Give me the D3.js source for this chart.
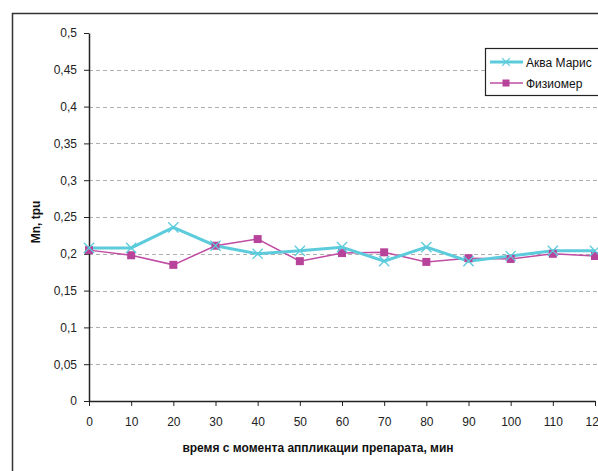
<!DOCTYPE html>
<html>
<head>
<meta charset="utf-8">
<script src="https://cdn.jsdelivr.net/npm/d3@7"></script>
<style>
  body { margin: 0; background: #fff; }
  svg { font-family: "Liberation Sans", Arial, sans-serif; }
</style>
</head>
<body>
<div id="chart"></div>
<script>
// Data
const times = [0, 10, 20, 30, 40, 50, 60, 70, 80, 90, 100, 110, 120];
const akvaMaris = [0.208, 0.208, 0.236, 0.211, 0.200, 0.204, 0.209, 0.190, 0.209, 0.190, 0.197, 0.204, 0.204];
const fiziomer = [0.205, 0.198, 0.185, 0.211, 0.220, 0.190, 0.201, 0.202, 0.189, 0.194, 0.193, 0.200, 0.197];
const yTicks = [0, 0.05, 0.1, 0.15, 0.2, 0.25, 0.3, 0.35, 0.4, 0.45, 0.5];
const seriesNames = ["Аква Марис", "Физиомер"];

const width = 598, height = 471;
const plotLeft = 89, plotTop = 33, plotRight = 595, plotBottom = 401;

const svg = d3.select("#chart").append("svg")
  .attr("width", width)
  .attr("height", height);

// outer frame (cropped on the right and bottom)
svg.append("rect")
  .attr("x", 12.5).attr("y", 13.5)
  .attr("width", 700).attr("height", 600)
  .attr("fill", "none")
  .attr("stroke", "#333")
  .attr("stroke-width", 1.5);

const x = d3.scaleLinear().domain([0, 120]).range([plotLeft, plotRight]);
const y = d3.scaleLinear().domain([0, 0.5]).range([plotBottom, plotTop]);

const fmt = d => String(d).replace(".", ",");

// gridlines
svg.append("g")
  .selectAll("line")
  .data(yTicks.filter(d => d > 0 && d < 0.5))
  .enter().append("line")
  .attr("x1", plotLeft).attr("x2", width)
  .attr("y1", d => Math.round(y(d)) + 0.5)
  .attr("y2", d => Math.round(y(d)) + 0.5)
  .attr("stroke", "#b0b0b0")
  .attr("stroke-dasharray", "4,3");

// Y axis
const yAxis = svg.append("g")
  .attr("transform", "translate(" + plotLeft + ",0)")
  .call(d3.axisLeft(y).tickValues(yTicks).tickFormat(fmt).tickSize(5).tickSizeOuter(0));
yAxis.select(".domain").attr("stroke", "#222").attr("stroke-width", 1.5);
yAxis.selectAll(".tick line").attr("stroke", "#222");
yAxis.selectAll("text").attr("font-size", 12).attr("fill", "#222").attr("x", -12);

// X axis
const xAxis = svg.append("g")
  .attr("transform", "translate(0," + plotBottom + ")")
  .call(d3.axisBottom(x).tickValues(times).tickFormat(d => d).tickSize(5).tickSizeOuter(0));
xAxis.select(".domain").attr("stroke", "#222").attr("stroke-width", 1.5);
xAxis.selectAll(".tick line").attr("stroke", "#222");
xAxis.selectAll("text").attr("font-size", 12).attr("fill", "#222").attr("y", 25).attr("dy", null);

// axis titles
svg.append("text")
  .attr("transform", "translate(40,222) rotate(-90)")
  .attr("text-anchor", "middle")
  .attr("font-size", 12).attr("font-weight", "bold").attr("fill", "#111")
  .text("Mn, tpu");

svg.append("text")
  .attr("x", 318).attr("y", 452)
  .attr("text-anchor", "middle")
  .attr("font-size", 12).attr("font-weight", "bold").attr("fill", "#111")
  .text("время с момента аппликации препарата, мин");

const line = d3.line().x((d, i) => x(times[i])).y(d => y(d));

// Физиомер
svg.append("path")
  .datum(fiziomer)
  .attr("d", line)
  .attr("fill", "none")
  .attr("stroke", "#c04ca3")
  .attr("stroke-width", 1.5);

// Аква Марис
svg.append("path")
  .datum(akvaMaris)
  .attr("d", line)
  .attr("fill", "none")
  .attr("stroke", "#5ccbdb")
  .attr("stroke-width", 3);

svg.append("g")
  .selectAll("rect")
  .data(fiziomer)
  .enter().append("rect")
  .attr("x", (d, i) => x(times[i]) - 4)
  .attr("y", d => y(d) - 4)
  .attr("width", 8).attr("height", 8)
  .attr("fill", "#b8439b");

const cross = d3.symbol().type(d3.symbolX).size(70);
svg.append("g")
  .selectAll("path")
  .data(akvaMaris)
  .enter().append("path")
  .attr("d", cross)
  .attr("transform", (d, i) => "translate(" + x(times[i]) + "," + y(d) + ")")
  .attr("fill", "none")
  .attr("stroke", "#5ccbdb")
  .attr("stroke-width", 1.3);

// legend
const legend = svg.append("g");
legend.append("rect")
  .attr("x", 485.5).attr("y", 48.5)
  .attr("width", 200).attr("height", 47)
  .attr("fill", "#fff")
  .attr("stroke", "#222")
  .attr("stroke-width", 1.2);

const legendRows = [
  { name: seriesNames[0], color: "#5ccbdb", w: 3, marker: "x", yy: 62 },
  { name: seriesNames[1], color: "#c04ca3", w: 1.5, marker: "sq", yy: 83 }
];
legendRows.forEach(r => {
  legend.append("line")
    .attr("x1", 490).attr("x2", 523)
    .attr("y1", r.yy).attr("y2", r.yy)
    .attr("stroke", r.color).attr("stroke-width", r.w);
  if (r.marker === "sq") {
    legend.append("rect")
      .attr("x", 502.5).attr("y", r.yy - 3.5)
      .attr("width", 7).attr("height", 7)
      .attr("fill", "#b8439b");
  } else {
    legend.append("path")
      .attr("d", d3.symbol().type(d3.symbolX).size(40))
      .attr("transform", "translate(506," + r.yy + ")")
      .attr("fill", "none").attr("stroke", r.color).attr("stroke-width", 1.2);
  }
  legend.append("text")
    .attr("x", 526).attr("y", r.yy + 4.5)
    .attr("font-size", 12).attr("fill", "#111")
    .text(r.name);
});
</script>
</body>
</html>
